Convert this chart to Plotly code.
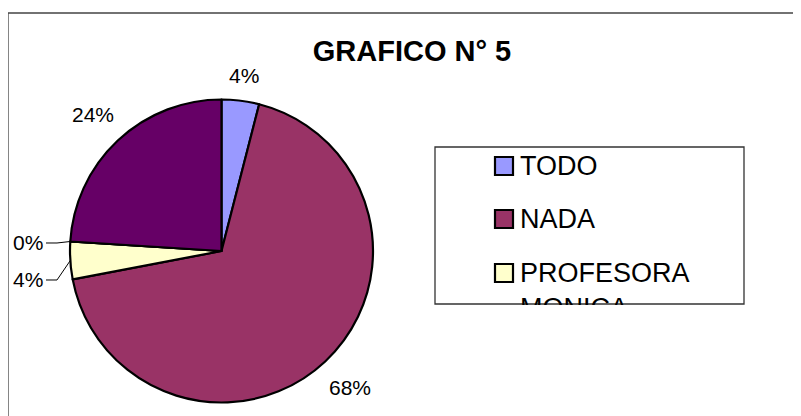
import math
import plotly.graph_objects as go

# page is drawn with the browser's 8px body margin; work in page pixels
OFF = 8
W, H = 801 - OFF, 416 - OFF

TITLE = "GRAFICO N° 5"
LABELS = ["TODO", "NADA", "PROFESORA MONICA", "OTRO", "OTROS"]
VALUES = [1, 17, 1, 0, 6]
COLORS = ["#9999FF", "#993366", "#FFFFCC", "#CCFFFF", "#660066"]
LEADER = [False, False, True, True, False]   # labels moved aside with leader lines
LEGEND_SHOWN = 3  # legend box clips after the third entry

FONT = "Liberation Sans, Arial"


def px_x(x):
    return (x - OFF) / W


def px_y(y):
    return 1 - (y - OFF) / H


cx, cy, r = 221.5, 251, 151.5

fig = go.Figure()
fig.add_trace(go.Pie(
    labels=LABELS,
    values=VALUES,
    sort=False,
    direction="clockwise",
    rotation=0,
    marker=dict(colors=COLORS, line=dict(color="black", width=2.2)),
    textinfo="none",
    textposition="none",
    domain=dict(x=[px_x(cx - r), px_x(cx + r)], y=[px_y(cy + r), px_y(cy - r)]),
    showlegend=False,
    hoverinfo="skip",
))

shapes = []
annotations = []

# percentage labels, placed from each slice's mid angle (clockwise from 12 o'clock)
LBL_SIZE = 21
total = sum(VALUES)
cum = 0.0
prev_leader_y = None
leader_items = []
for i, v in enumerate(VALUES):
    a0 = cum / total * 360
    cum += v
    a1 = cum / total * 360
    am = math.radians((a0 + a1) / 2)
    ux, uy = math.sin(am), -math.cos(am)
    pct = f"{round(100 * v / total)}%"
    tw = sum(0.889 if ch == "%" else 0.556 for ch in pct) * LBL_SIZE
    if not LEADER[i]:
        d = r + 14 + abs(ux) * tw / 2 + abs(uy) * 10
        annotations.append(dict(xref="paper", yref="paper", x=px_x(cx + d * ux), y=px_y(cy + d * uy),
                                xanchor="center", yanchor="middle", text=pct, showarrow=False,
                                font=dict(family=FONT, size=LBL_SIZE, color="black")))
    else:
        ex, ey = cx + r * ux, cy + r * uy
        leader_items.append((ey, ex, pct))

leader_items.sort()
for ey, ex, pct in leader_items:
    ly = ey + 1.5 if prev_leader_y is None else max(ey, prev_leader_y + 37)
    prev_leader_y = ly
    xr = cx - r - 25
    annotations.append(dict(xref="paper", yref="paper", x=px_x(xr), y=px_y(ly),
                            xanchor="right", yanchor="middle", text=pct, showarrow=False,
                            font=dict(family=FONT, size=LBL_SIZE, color="black")))
    path = (f"M {px_x(xr + 1)},{px_y(ly)} L {px_x(xr + 12)},{px_y(ly)} "
            f"L {px_x(ex)},{px_y(ey)}")
    shapes.append(dict(type="path", xref="paper", yref="paper", path=path,
                       line=dict(color="black", width=1)))

# outer chart frame (clipped on right and bottom)
shapes.append(dict(type="rect", xref="paper", yref="paper",
                   x0=px_x(8), x1=px_x(815), y0=px_y(430), y1=px_y(13),
                   line=dict(color="#444444", width=1.3)))
# legend box
lx0, lx1, ly0, ly1 = 435, 744, 147, 304
shapes.append(dict(type="rect", xref="paper", yref="paper",
                   x0=px_x(lx0), x1=px_x(lx1), y0=px_y(ly1), y1=px_y(ly0),
                   line=dict(color="#333333", width=1.3), fillcolor="white", layer="below"))

entry_y = [166, 219, 273]
for i in range(LEGEND_SHOWN):
    yc = entry_y[i]
    shapes.append(dict(type="rect", xref="paper", yref="paper",
                       x0=px_x(495), x1=px_x(513), y0=px_y(yc + 9), y1=px_y(yc - 9),
                       line=dict(color="black", width=2.2), fillcolor=COLORS[i]))
    text = LABELS[i].replace(" ", "<br>")
    annotations.append(dict(xref="paper", yref="paper", x=px_x(518), y=px_y(yc - 17),
                            xanchor="left", yanchor="top", text=text, showarrow=False,
                            align="left",
                            font=dict(family=FONT, size=27, color="black")))
# cover to clip legend text at the box bottom
annotations.append(dict(xref="paper", yref="paper", x=px_x(lx0 + 1), y=px_y(ly1 + 1),
                        xanchor="left", yanchor="top", text=" ", showarrow=False,
                        width=lx1 - lx0 - 2, height=40, bgcolor="white", borderpad=0,
                        borderwidth=0))

fig.update_layout(
    width=W, height=H,
    margin=dict(l=0, r=0, t=0, b=0),
    paper_bgcolor="white",
    plot_bgcolor="white",
    title=dict(text="<b>" + TITLE + "</b>", x=px_x(412), xanchor="center",
               y=px_y(51), yanchor="middle",
               font=dict(family=FONT, size=29, color="black")),
    shapes=shapes,
    annotations=annotations,
)

fig.write_html("out.html", config=dict(displayModeBar=False))
